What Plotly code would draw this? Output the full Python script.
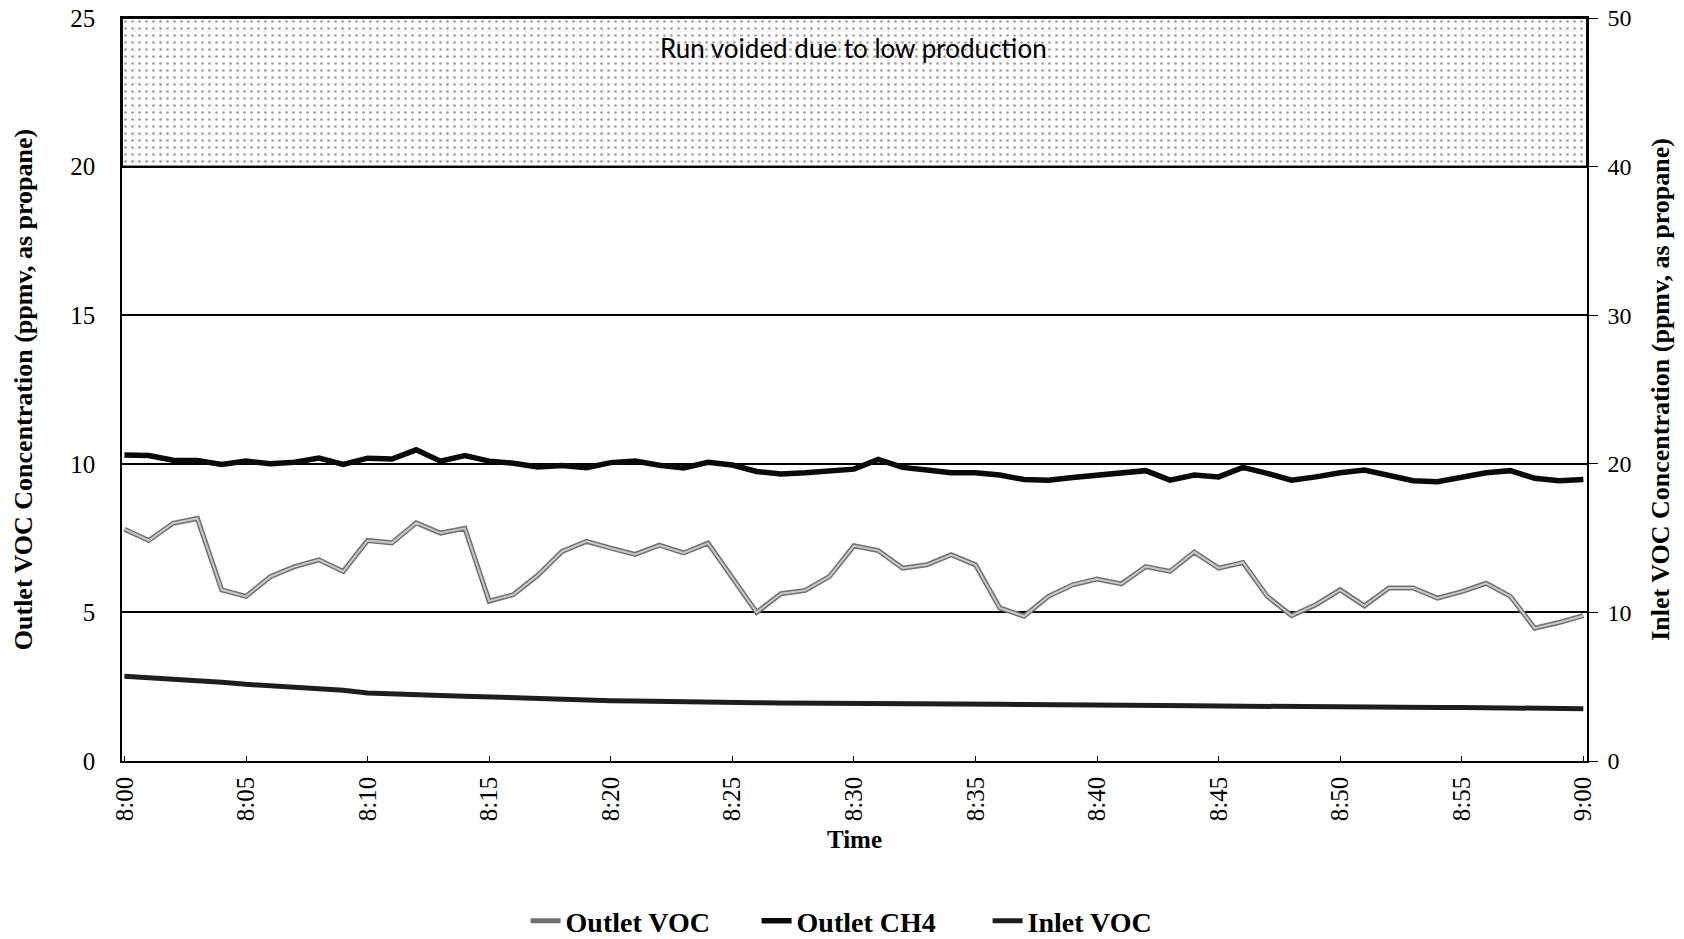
import plotly.graph_objects as go

# Minutes after 8:00 for each one-minute reading
minutes = list(range(61))

tick_minutes = [0, 5, 10, 15, 20, 25, 30, 35, 40, 45, 50, 55, 60]
tick_labels = ["8:00", "8:05", "8:10", "8:15", "8:20", "8:25", "8:30",
               "8:35", "8:40", "8:45", "8:50", "8:55", "9:00"]

# Outlet VOC, ppmv as propane (left axis)
outlet_voc = [7.80, 7.42, 8.00, 8.16, 5.76, 5.54, 6.20, 6.54, 6.77, 6.38,
              7.42, 7.34, 8.01, 7.67, 7.83, 5.38, 5.60, 6.25, 7.05, 7.39,
              7.16, 6.95, 7.26, 7.00, 7.33, 6.15, 5.00, 5.63, 5.74, 6.21,
              7.24, 7.08, 6.49, 6.60, 6.94, 6.60, 5.15, 4.87, 5.54, 5.93,
              6.12, 5.96, 6.54, 6.38, 7.03, 6.49, 6.68, 5.54, 4.89, 5.26,
              5.76, 5.22, 5.82, 5.82, 5.48, 5.70, 5.98, 5.54, 4.47, 4.66,
              4.89]

# Outlet CH4, ppmv (left axis)
outlet_ch4 = [10.30, 10.28, 10.12, 10.11, 9.98, 10.09, 10.00, 10.05, 10.19, 9.98,
              10.19, 10.16, 10.47, 10.09, 10.28, 10.09, 10.02, 9.89, 9.94, 9.87,
              10.04, 10.09, 9.95, 9.86, 10.05, 9.96, 9.74, 9.66, 9.70, 9.77,
              9.82, 10.15, 9.88, 9.79, 9.70, 9.70, 9.62, 9.47, 9.45, 9.54,
              9.62, 9.73, 9.77, 9.45, 9.62, 9.56, 9.88, 9.68, 9.45, 9.56,
              9.70, 9.79, 9.63, 9.43, 9.40, 9.54, 9.70, 9.77, 9.51, 9.43,
              9.47]

# Inlet VOC, ppmv as propane (right axis)
inlet_voc = [5.70, 5.62, 5.52, 5.42, 5.30, 5.16, 5.06, 4.98, 4.88, 4.76,
             4.58, 4.50, 4.44, 4.40, 4.36, 4.30, 4.26, 4.20, 4.16, 4.12,
             4.06, 4.04, 4.00, 3.98, 3.94, 3.92, 3.92, 3.90, 3.90, 3.88,
             3.88, 3.86, 3.84, 3.84, 3.86, 3.84, 3.82, 3.80, 3.80, 3.78,
             3.76, 3.74, 3.72, 3.72, 3.72, 3.70, 3.68, 3.66, 3.64, 3.64,
             3.64, 3.62, 3.60, 3.58, 3.60, 3.60, 3.58, 3.56, 3.56, 3.54,
             3.52]

x_range = [-0.1, 60.15]
voided_low, voided_high = 20, 25

serif = "Liberation Serif"

fig = go.Figure()

# Stippled band marking the voided run
band_x = [x_range[0], x_range[1], x_range[1], x_range[0], x_range[0]]
band_y = [voided_low, voided_low, voided_high, voided_high, voided_low]
fig.add_trace(go.Scatter(
    x=band_x, y=band_y, mode="lines", fill="toself", fillcolor="white",
    fillpattern=dict(shape=".", fgcolor="#3c3c3c", bgcolor="white",
                     size=7, solidity=0.12),
    line=dict(color="black", width=1.5),
    hoverinfo="skip", showlegend=False,
))
fig.add_trace(go.Scatter(
    x=band_x, y=band_y, mode="lines", fill="toself", fillcolor="rgba(0,0,0,0)",
    fillpattern=dict(shape="+", fgcolor="rgba(90,90,90,0.35)",
                     bgcolor="rgba(0,0,0,0)", size=26, solidity=0.05),
    line=dict(color="black", width=1.5),
    hoverinfo="skip", showlegend=False,
))

# Outlet VOC: dark outline with lighter core
fig.add_trace(go.Scatter(
    x=minutes, y=outlet_voc, name="Outlet VOC", mode="lines",
    line=dict(color="#707070", width=5),
))
fig.add_trace(go.Scatter(
    x=minutes, y=outlet_voc, mode="lines", showlegend=False,
    line=dict(color="#c8c8c8", width=2), hoverinfo="skip",
))

fig.add_trace(go.Scatter(
    x=minutes, y=outlet_ch4, name="Outlet CH4", mode="lines",
    line=dict(color="#0a0a0a", width=5.5),
))

fig.add_trace(go.Scatter(
    x=minutes, y=inlet_voc, name="Inlet VOC", mode="lines", yaxis="y2",
    line=dict(color="#1e1e1e", width=5),
))

fig.add_annotation(
    x=30, y=24.0, xref="x", yref="y", text="Run voided due to low production",
    showarrow=False, font=dict(family="Lato", size=26, color="black"),
)

fig.update_layout(
    width=1684, height=939,
    margin=dict(l=122, r=97, t=18, b=178),
    paper_bgcolor="white", plot_bgcolor="white",
    font=dict(family=serif, color="black"),
    xaxis=dict(
        range=x_range, tickmode="array", tickvals=tick_minutes, ticktext=tick_labels,
        tickangle=-90, tickfont=dict(family=serif, size=25),
        ticks="inside", ticklen=5, tickcolor="black", ticklabelstandoff=4,
        showline=True, linecolor="black", linewidth=1.5, mirror=True,
        showgrid=False, zeroline=False, automargin=False,
        title=dict(text="<b>Time</b>", font=dict(family=serif, size=25), standoff=10),
    ),
    yaxis=dict(
        range=[0, 25], dtick=5, tickfont=dict(family=serif, size=25),
        showgrid=True, gridcolor="black", gridwidth=1.5,
        showline=True, linecolor="black", linewidth=1.5, zeroline=False,
        ticks="", ticklabelstandoff=20, automargin=False,
        title=dict(text="<b>Outlet VOC Concentration (ppmv, as propane)</b>",
                   font=dict(family=serif, size=26), standoff=30),
    ),
    yaxis2=dict(
        range=[0, 50], dtick=10, overlaying="y", side="right",
        tickfont=dict(family=serif, size=24), automargin=False,
        showgrid=False, showline=True, linecolor="black", linewidth=1.5,
        zeroline=False, ticks="outside", ticklen=9, tickcolor="black",
        ticklabelstandoff=5,
        title=dict(text="<b>Inlet VOC Concentration (ppmv, as propane)</b>",
                   font=dict(family=serif, size=26), standoff=20),
    ),
    legend=dict(
        orientation="h", x=0.512, xanchor="center",
        yref="container", y=0.019, yanchor="middle",
        font=dict(family=serif, size=28, weight="bold"), traceorder="normal",
        bgcolor="rgba(0,0,0,0)", entrywidth=186, entrywidthmode="pixels",
    ),
)

fig.write_html("out.html")
